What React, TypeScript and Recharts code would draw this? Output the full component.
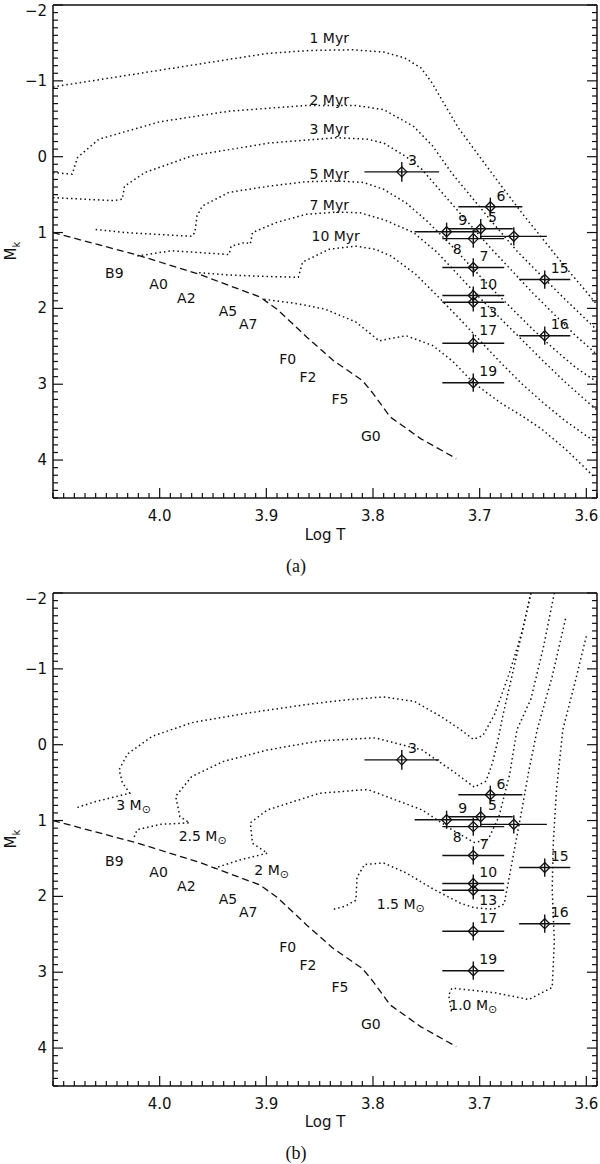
import React from 'react';
import { ComposedChart, Scatter, XAxis, YAxis, ErrorBar } from 'recharts';

type Pt = [number, number];
type Note = [string, number, number];

const INK = '#111';
const SANS = '"DejaVu Sans", sans-serif';

// axes
const X_DOMAIN: [number, number] = [3.59, 4.1];
const Y_DOMAIN: [number, number] = [-2, 4.5];
const xMajorTicks = [4.0, 3.9, 3.8, 3.7, 3.6];
const xTickLabels = ['4.0', '3.9', '3.8', '3.7', '3.6'];
const yMajorTicks = [-2, -1, 0, 1, 2, 3, 4];
const yTickLabels = ['\u22122', '\u22121', '0', '1', '2', '3', '4'];
const xMinorTicks = Array.from({ length: 52 }, (_, i) => +(3.59 + i * 0.01).toFixed(2));
const yMinorTicks = Array.from({ length: 66 }, (_, i) => +(-2 + i * 0.1).toFixed(1));

// observed stars (log T, M_k, errors)
const starLogT = [3.773, 3.690, 3.699, 3.731, 3.668, 3.706, 3.706, 3.706, 3.706, 3.706, 3.706, 3.639, 3.639];
const starMk = [0.20, 0.66, 0.95, 0.99, 1.05, 1.08, 1.46, 1.83, 1.92, 2.46, 2.98, 1.62, 2.36];
const starErrLogT = [0.035, 0.030, 0.030, 0.030, 0.031, 0.029, 0.029, 0.029, 0.029, 0.029, 0.029, 0.024, 0.024];
const starErrMk = [0.13, 0.12, 0.13, 0.12, 0.12, 0.12, 0.12, 0.12, 0.12, 0.12, 0.12, 0.12, 0.12];

const starNotes: Note[] = [
  ['3', 3.763, 0.05], ['6', 3.680, 0.52], ['5', 3.688, 0.80], ['9', 3.716, 0.83],
  ['8', 3.721, 1.22], ['7', 3.696, 1.31], ['10', 3.692, 1.68], ['13', 3.692, 2.05],
  ['17', 3.692, 2.29], ['19', 3.692, 2.82], ['15', 3.625, 1.47], ['16', 3.625, 2.20],
];

// ZAMS and spectral types
const zams: Pt[] = [
  [4.1, 1.0], [4.02, 1.3], [3.963, 1.55], [3.906, 1.85], [3.89, 2.01], [3.862, 2.38],
  [3.837, 2.69], [3.81, 2.95], [3.80, 3.12], [3.784, 3.43], [3.755, 3.72], [3.722, 3.98],
];
const spectralNotes: Note[] = [
  ['B9', 4.0425, 1.53], ['A0', 4.001, 1.68], ['A2', 3.975, 1.86], ['A5', 3.936, 2.04],
  ['A7', 3.917, 2.20], ['F0', 3.880, 2.67], ['F2', 3.861, 2.91], ['F5', 3.831, 3.20], ['G0', 3.802, 3.68],
];

// panel (a): isochrones
const iso1: Pt[] = [
  [4.1, -0.92], [4.05, -1.03], [4.0, -1.14], [3.95, -1.25], [3.9, -1.36], [3.86, -1.40], [3.82, -1.41],
  [3.79, -1.38], [3.77, -1.30], [3.755, -1.17], [3.745, -0.98], [3.735, -0.74], [3.72, -0.38], [3.70, 0.0],
  [3.68, 0.38], [3.66, 0.75], [3.64, 1.1], [3.62, 1.45], [3.60, 1.78], [3.589, 1.97],
];
const iso2: Pt[] = [
  [4.1, 0.21], [4.082, 0.23], [4.077, 0.01], [4.057, -0.23], [4.0, -0.46], [3.935, -0.60], [3.863, -0.675],
  [3.816, -0.675], [3.79, -0.62], [3.762, -0.40], [3.744, -0.14], [3.726, 0.22], [3.706, 0.56], [3.686, 0.9],
  [3.664, 1.26], [3.64, 1.6], [3.62, 1.88], [3.60, 2.15], [3.589, 2.3],
];
const iso3: Pt[] = [
  [4.1, 0.54], [4.0425, 0.58], [4.035, 0.56], [4.033, 0.39], [4.014, 0.21], [3.97, -0.01], [3.898, -0.18],
  [3.834, -0.25], [3.805, -0.23], [3.79, -0.18], [3.769, 0.0], [3.754, 0.17], [3.73, 0.56], [3.71, 0.88],
  [3.69, 1.2], [3.67, 1.5], [3.65, 1.8], [3.63, 2.08], [3.61, 2.36], [3.589, 2.62],
];
const iso5: Pt[] = [
  [4.06, 0.96], [4.032, 1.0], [3.97, 1.05], [3.967, 1.0], [3.965, 0.78], [3.96, 0.65], [3.935, 0.47],
  [3.898, 0.39], [3.863, 0.33], [3.834, 0.32], [3.809, 0.34], [3.79, 0.43], [3.769, 0.61], [3.75, 0.84],
  [3.73, 1.12], [3.71, 1.42], [3.69, 1.72], [3.67, 2.0], [3.65, 2.28], [3.63, 2.54], [3.61, 2.78], [3.589, 2.98],
];
const iso7: Pt[] = [
  [4.021, 1.31], [3.989, 1.24], [3.935, 1.29], [3.933, 1.18], [3.92, 1.13], [3.915, 1.15], [3.913, 1.0],
  [3.891, 0.87], [3.863, 0.76], [3.834, 0.73], [3.812, 0.74], [3.79, 0.83], [3.762, 1.0], [3.74, 1.26],
  [3.72, 1.56], [3.70, 1.86], [3.68, 2.14], [3.66, 2.42], [3.64, 2.7], [3.62, 2.97], [3.60, 3.22], [3.589, 3.35],
];
const iso10: Pt[] = [
  [3.963, 1.53], [3.935, 1.56], [3.898, 1.58], [3.87, 1.59], [3.866, 1.39], [3.841, 1.22], [3.816, 1.18],
  [3.798, 1.22], [3.783, 1.31], [3.76, 1.55], [3.74, 1.83], [3.72, 2.12], [3.70, 2.42], [3.68, 2.72],
  [3.66, 3.0], [3.64, 3.25], [3.62, 3.48], [3.60, 3.68], [3.589, 3.78],
];
const isoOld: Pt[] = [
  [3.902, 1.88], [3.87, 1.94], [3.845, 2.01], [3.816, 2.18], [3.794, 2.43], [3.785, 2.40], [3.769, 2.36],
  [3.744, 2.49], [3.725, 2.7], [3.706, 2.98], [3.68, 3.25], [3.66, 3.42], [3.642, 3.59], [3.62, 3.85],
  [3.60, 4.12], [3.593, 4.22],
];
const isoNotes: Note[] = [
  ['1 Myr', 3.841, -1.57], ['2 Myr', 3.841, -0.75], ['3 Myr', 3.841, -0.36],
  ['5 Myr', 3.841, 0.23], ['7 Myr', 3.841, 0.64], ['10 Myr', 3.835, 1.045],
];

// panel (b): evolutionary tracks
const track30: Pt[] = [
  [3.652, -2.0], [3.660, -1.5], [3.672, -0.95], [3.686, -0.4], [3.697, -0.12], [3.706, -0.07], [3.718, -0.2],
  [3.736, -0.37], [3.761, -0.57], [3.79, -0.63], [3.826, -0.59], [3.862, -0.53], [3.916, -0.42], [3.97, -0.29],
  [4.007, -0.11], [4.03, 0.12], [4.038, 0.33], [4.035, 0.5], [4.028, 0.64], [4.06, 0.75], [4.079, 0.835],
];
const track25: Pt[] = [
  [3.652, -2.0], [3.660, -1.5], [3.669, -0.95], [3.678, -0.4], [3.683, -0.05], [3.688, 0.24], [3.694, 0.48],
  [3.705, 0.56], [3.724, 0.36], [3.754, 0.07], [3.798, -0.09], [3.85, -0.05], [3.899, 0.07], [3.94, 0.22],
  [3.970, 0.42], [3.985, 0.68], [3.981, 0.95], [3.972, 1.03], [3.999, 1.05], [4.021, 1.12], [4.025, 1.25],
];
const track20: Pt[] = [
  [3.630, -2.0], [3.640, -1.3], [3.652, -0.6], [3.665, -0.2], [3.672, 0.4], [3.682, 0.95], [3.692, 1.25],
  [3.705, 1.29], [3.726, 1.12], [3.754, 0.86], [3.805, 0.59], [3.85, 0.64], [3.899, 0.86], [3.915, 1.03],
  [3.913, 1.30], [3.899, 1.43], [3.925, 1.52], [3.949, 1.63],
];
const track15: Pt[] = [
  [3.6195, -1.66], [3.632, -0.9], [3.646, -0.2], [3.654, 0.35], [3.661, 0.9], [3.669, 1.5], [3.677, 2.1],
  [3.687, 2.17], [3.705, 2.15], [3.718, 2.09], [3.744, 1.9], [3.769, 1.69], [3.79, 1.56], [3.808, 1.58],
  [3.815, 1.75], [3.816, 2.05], [3.826, 2.13], [3.837, 2.17],
];
const track10: Pt[] = [
  [3.600, -1.43], [3.611, -0.8], [3.622, -0.2], [3.628, 0.6], [3.631, 1.3], [3.632, 1.9], [3.630, 2.6],
  [3.632, 3.2], [3.654, 3.36], [3.686, 3.27], [3.726, 3.21], [3.729, 3.3], [3.7265, 3.52],
];
const massNotes: Note[] = [
  ['3', 4.0245, 0.79], ['2.5', 3.9597, 1.2], ['2', 3.895, 1.65], ['1.5', 3.774, 2.1], ['1.0', 3.706, 3.43],
];

const toPts = (a: Pt[]) => a.map(([x, y]) => ({ x, y }));
const toNotes = (a: Note[]) => a.map(([t, x, y]) => ({ t, x, y }));
const stars = starLogT.map((x, i) => ({ x, y: starMk[i], ex: starErrLogT[i], ey: starErrMk[i] }));

const noDot = () => <g />;

const Diamond = (p: any) => (
  <polygon
    points={`${p.cx},${p.cy - 5} ${p.cx + 5},${p.cy} ${p.cx},${p.cy + 5} ${p.cx - 5},${p.cy}`}
    fill="none"
    stroke={INK}
    strokeWidth={1.3}
  />
);

const NoteText = (p: any) => (
  <text x={p.cx} y={p.cy} textAnchor="middle" dominantBaseline="central" fontFamily={SANS} fontSize={14} fill={INK}>
    {p.payload.t}
  </text>
);

const MassText = (p: any) => (
  <text x={p.cx} y={p.cy} textAnchor="middle" dominantBaseline="central" fontFamily={SANS} fontSize={14} fill={INK}>
    {p.payload.t} M
    <tspan fontSize={11} dy={4}>{'\u2299'}</tspan>
  </text>
);

function Tick(props: any) {
  const { x, y, payload, side } = props;
  const v: number = payload.value;
  const xi = xMajorTicks.indexOf(v);
  const yi = yMajorTicks.indexOf(v);
  const major = side === 'bottom' || side === 'top' ? xi >= 0 : yi >= 0;
  const len = major ? 10 : 5;
  let c = { x1: x, y1: y, x2: x, y2: y };
  if (side === 'bottom') c = { ...c, y2: y - len };
  if (side === 'top') c = { ...c, y2: y + len };
  if (side === 'left') c = { ...c, x2: x + len };
  if (side === 'right') c = { ...c, x2: x - len };
  return (
    <g>
      <line {...c} stroke={INK} strokeWidth={1.2} />
      {side === 'bottom' && major && (
        <text x={x} y={y + 23} textAnchor="middle" fontFamily={SANS} fontSize={15} fill={INK}>
          {xTickLabels[xi]}
        </text>
      )}
      {side === 'left' && major && (
        <text x={x - 6} y={y + (v === -2 ? 6 : 0)} textAnchor="end" dominantBaseline="central" fontFamily={SANS} fontSize={15} fill={INK}>
          {yTickLabels[yi]}
        </text>
      )}
    </g>
  );
}

const DOTTED = { stroke: INK, strokeWidth: 1.5, strokeDasharray: '1.5 3' };
const DASHED = { stroke: INK, strokeWidth: 1.3, strokeDasharray: '7 4' };
const FRAME = { stroke: INK, strokeWidth: 1.5 };

// each axis band is 1px thick (recharts skips zero-sized axes), margins absorb it
function Panel({ height, marginTop, curves, labels, labelShape }: {
  height: number;
  marginTop: number;
  curves: Pt[][];
  labels: Note[];
  labelShape: (p: any) => React.ReactElement;
}) {
  const common = { type: 'number' as const, allowDataOverflow: true, interval: 0 as const, tickSize: 0, tickMargin: 0, tickLine: false, axisLine: FRAME };
  return (
    <ComposedChart
      width={600}
      height={height}
      margin={{ top: marginTop - 1, right: 2, bottom: height - marginTop - 493 - 1, left: 52 }}
    >
      <XAxis xAxisId="b" dataKey="x" domain={X_DOMAIN} reversed ticks={xMinorTicks} height={1} {...common} tick={(p: any) => <Tick {...p} side="bottom" />} />
      <XAxis xAxisId="t" orientation="top" domain={X_DOMAIN} reversed ticks={xMinorTicks} height={1} {...common} tick={(p: any) => <Tick {...p} side="top" />} />
      <YAxis yAxisId="l" dataKey="y" domain={Y_DOMAIN} reversed ticks={yMinorTicks} width={1} {...common} tick={(p: any) => <Tick {...p} side="left" />} />
      <YAxis yAxisId="r" orientation="right" domain={Y_DOMAIN} reversed ticks={yMinorTicks} width={1} {...common} tick={(p: any) => <Tick {...p} side="right" />} />
      {curves.map((c, i) => (
        <Scatter key={i} xAxisId="b" yAxisId="l" data={toPts(c)} line={DOTTED} shape={noDot} isAnimationActive={false} />
      ))}
      <Scatter xAxisId="b" yAxisId="l" data={toPts(zams)} line={DASHED} shape={noDot} isAnimationActive={false} />
      <Scatter xAxisId="b" yAxisId="l" data={stars} shape={Diamond} isAnimationActive={false}>
        <ErrorBar dataKey="ex" direction="x" width={0} stroke={INK} strokeWidth={1.4} />
        <ErrorBar dataKey="ey" direction="y" width={0} stroke={INK} strokeWidth={1.4} />
      </Scatter>
      <Scatter xAxisId="b" yAxisId="l" data={toNotes(starNotes)} shape={NoteText} isAnimationActive={false} />
      <Scatter xAxisId="b" yAxisId="l" data={toNotes(spectralNotes)} shape={NoteText} isAnimationActive={false} />
      <Scatter xAxisId="b" yAxisId="l" data={toNotes(labels)} shape={labelShape} isAnimationActive={false} />
    </ComposedChart>
  );
}

const center = (left: number, top: number): React.CSSProperties => ({
  position: 'absolute', left, top, transform: 'translate(-50%, -50%)', whiteSpace: 'nowrap', lineHeight: 1, color: INK,
});

function YLabel({ top }: { top: number }) {
  return (
    <div style={{ ...center(13, top), transform: 'translate(-50%, -50%) rotate(-90deg)', fontFamily: SANS, fontSize: 15 }}>
      M<sub style={{ fontSize: 10 }}>k</sub>
    </div>
  );
}

export default function App() {
  return (
    <div style={{ position: 'absolute', left: 0, top: 0, width: 600, height: 1164, background: '#fff' }}>
      <div style={{ position: 'absolute', left: 0, top: 0 }}>
        <Panel height={580} marginTop={5} curves={[iso1, iso2, iso3, iso5, iso7, iso10, isoOld]} labels={isoNotes} labelShape={NoteText} />
      </div>
      <div style={{ position: 'absolute', left: 0, top: 580 }}>
        <Panel height={584} marginTop={13} curves={[track30, track25, track20, track15, track10]} labels={massNotes} labelShape={MassText} />
      </div>
      <YLabel top={251} />
      <YLabel top={839} />
      <div style={{ ...center(325, 535), fontFamily: SANS, fontSize: 15 }}>Log T</div>
      <div style={{ ...center(325, 1122), fontFamily: SANS, fontSize: 15 }}>Log T</div>
      <div style={{ ...center(296, 566), fontFamily: '"Liberation Serif", serif', fontSize: 18 }}>(a)</div>
      <div style={{ ...center(296, 1153), fontFamily: '"Liberation Serif", serif', fontSize: 18 }}>(b)</div>
    </div>
  );
}
